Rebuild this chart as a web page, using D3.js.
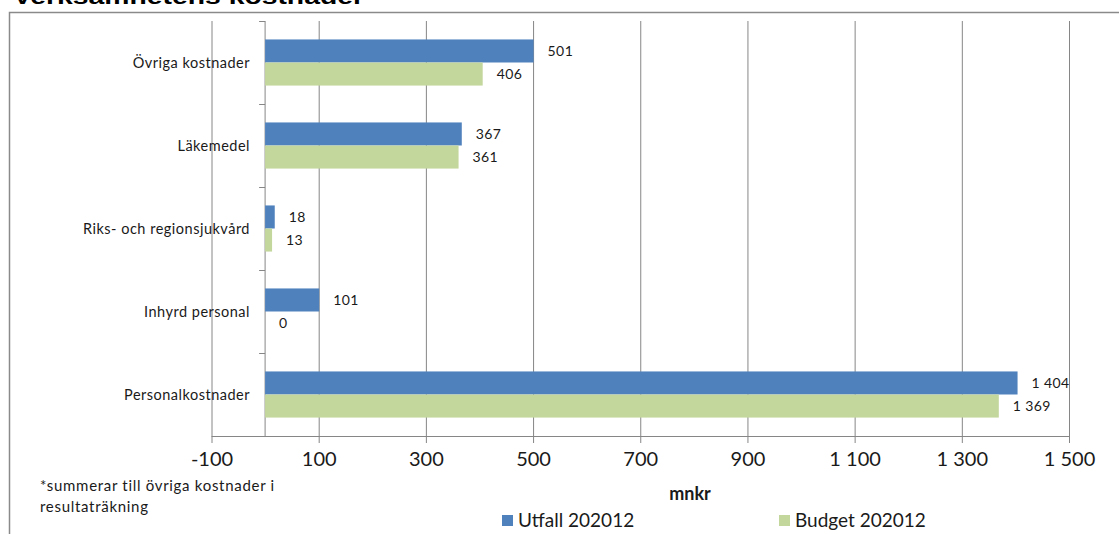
<!DOCTYPE html>
<html><head><meta charset="utf-8">
<script src="https://cdn.jsdelivr.net/npm/d3@7"></script>
<style>
html,body{margin:0;padding:0;background:#fff;}
svg{display:block;}
text{font-family:Lato,"Open Sans",sans-serif;fill:#1a1a1a;}
</style></head><body>
<svg id="c" width="1119" height="534"></svg>
<script>
const categories = ["Övriga kostnader","Läkemedel","Riks- och regionsjukvård","Inhyrd personal","Personalkostnader"];
const utfall = [501, 367, 18, 101, 1404];
const budget = [406, 361, 13, 0, 1369];
const seriesNames = ["Utfall 202012","Budget 202012"];
const xTicks = [-100, 100, 300, 500, 700, 900, 1100, 1300, 1500];
const titleText = "Verksamhetens kostnader";
const axisTitle = "mnkr";
const noteLines = ["*summerar till övriga kostnader i","resultaträkning"];

const colors = ["#4F81BD","#C3D69B"];
const svg = d3.select("#c");
const locale = d3.formatLocale({decimal:",", thousands:"\u2009", grouping:[3], currency:["",""], minus:"-"});
const fmt = v => locale.format(",d")(v).replace("\u2009"," ");

const plotTop = 21, plotBottom = 436;
const x = d3.scaleLinear().domain([-100,1500]).range([211.5,1069]);
const y = d3.scaleBand().domain(categories).range([plotTop,plotBottom]).paddingInner(0.4444).paddingOuter(0.2222);
const ys = d3.scaleBand().domain([0,1]).range([0,y.bandwidth()]);

// title (cut off at top)
svg.append("text").attr("x",13).attr("y",3.5).attr("textLength",351).attr("lengthAdjust","spacingAndGlyphs")
  .style("font-family","'Liberation Sans',Arial,sans-serif").style("font-weight","bold").style("font-size","22px").style("fill","#000")
  .text(titleText);

// frame
svg.append("path").attr("d","M9.5,534 V12.5 H1119").attr("fill","none").attr("stroke","#8a8a8a").attr("stroke-width",1.5);

// gridlines + x axis
const xAxis = d3.axisBottom(x).tickValues(xTicks).tickSize(7).tickFormat(d=>fmt(d));
const gx = svg.append("g").attr("transform",`translate(0,${plotBottom})`).call(xAxis);
gx.select(".domain").attr("stroke","#868686").attr("d",`M${x(-100)},0.5H${x(1500)}`);
gx.selectAll(".tick line").attr("stroke","#868686").attr("y1",-(plotBottom-plotTop));
gx.selectAll(".tick text").attr("y",30).attr("dy",0).style("font-size","20px").style("fill","#1a1a1a")
  .style("font-family","Lato,sans-serif");

// category axis at 0
const gy = svg.append("g");
gy.append("line").attr("x1",x(0)).attr("x2",x(0)).attr("y1",plotTop).attr("y2",plotBottom).attr("stroke","#868686");
const bounds = categories.map(c => y(c) - y.step()*y.paddingOuter()).concat([plotBottom]);
gy.selectAll("line.tk").data(bounds).join("line").attr("class","tk")
  .attr("x1",x(0)-6).attr("x2",x(0)).attr("y1",d=>Math.round(d)+0.5).attr("y2",d=>Math.round(d)+0.5).attr("stroke","#868686");
gy.selectAll("text.cat").data(categories).join("text").attr("class","cat")
  .attr("x",250).attr("y",d=>y(d)+y.bandwidth()/2).attr("dy","0.35em").attr("text-anchor","end")
  .style("font-size","14.5px").style("letter-spacing","0.5px").text(d=>d);

// bars
const data = [];
categories.forEach((c,i)=>{ data.push({c,s:0,v:utfall[i]}); data.push({c,s:1,v:budget[i]}); });
svg.append("g").selectAll("rect").data(data).join("rect")
  .attr("x",d=>x(Math.min(0,d.v))).attr("width",d=>Math.abs(x(d.v)-x(0)))
  .attr("y",d=>y(d.c)+ys(d.s)).attr("height",ys.bandwidth()).attr("fill",d=>colors[d.s]);

// labels
svg.append("g").selectAll("text").data(data).join("text")
  .attr("x",d=>x(d.v)+14).attr("y",d=>y(d.c)+ys(d.s)+ys.bandwidth()/2).attr("dy","0.35em")
  .style("font-size","14px").style("letter-spacing","0.4px").text(d=>fmt(d.v));

// axis title
svg.append("text").attr("x",690).attr("y",500).attr("text-anchor","middle")
  .style("font-size","18px").style("font-weight","bold").text(axisTitle);

// note
svg.selectAll("text.note").data(noteLines).join("text").attr("class","note")
  .attr("x",40).attr("y",(d,i)=>491+i*21).style("font-size","15px").style("letter-spacing","0.7px").text(d=>d);

// legend
const legX = [502, 779];
const lg = svg.append("g").selectAll("g").data(seriesNames).join("g").attr("transform",(d,i)=>`translate(${legX[i]},515)`);
lg.append("rect").attr("width",11).attr("height",11).attr("fill",(d,i)=>colors[i]);
lg.append("text").attr("x",16).attr("y",12).style("font-size","19px").text(d=>d);
</script></body></html>
